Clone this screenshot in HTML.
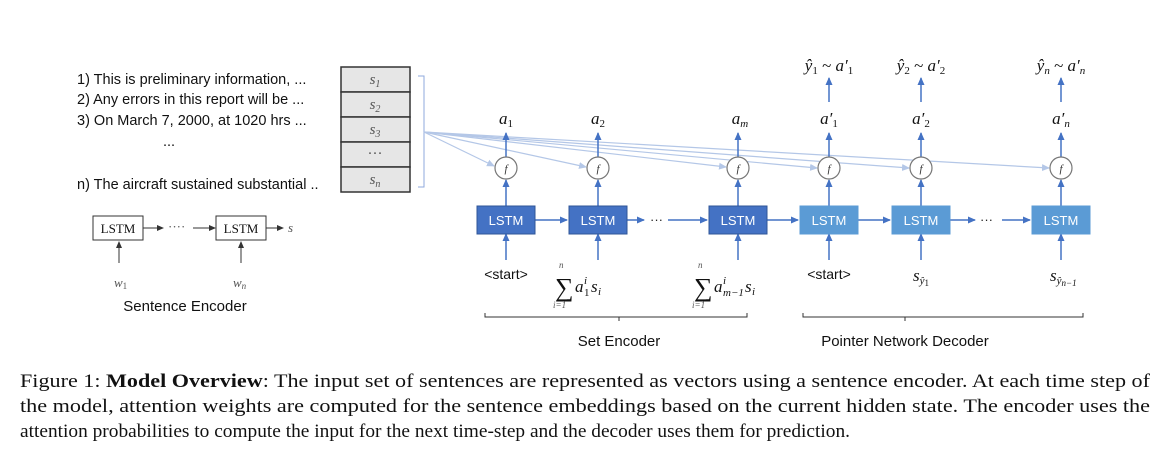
<!DOCTYPE html>
<html><head><meta charset="utf-8"><style>
html,body{margin:0;padding:0;background:#fff;}
svg{display:block;}
.sans{font-family:"Liberation Sans",sans-serif;}
.serif{font-family:"Liberation Serif",serif;}
</style></head><body>
<svg width="1169" height="452" viewBox="0 0 1169 452" xmlns="http://www.w3.org/2000/svg">
<defs>
<marker id="ab" markerWidth="8" markerHeight="8" refX="7" refY="4" orient="auto" markerUnits="userSpaceOnUse"><path d="M0,0.5 L8,4 L0,7.5 z" fill="#4472c4"/></marker>
<marker id="al" markerWidth="8" markerHeight="8" refX="7" refY="4" orient="auto" markerUnits="userSpaceOnUse"><path d="M0,0.5 L8,4 L0,7.5 z" fill="#b4c7e7"/></marker>
<marker id="ak" markerWidth="7" markerHeight="7" refX="6" refY="3.5" orient="auto" markerUnits="userSpaceOnUse"><path d="M0,0.5 L7,3.5 L0,6.5 z" fill="#333"/></marker>
</defs>
<g class="sans" font-size="14.5" fill="#111">
<text x="77" y="84">1) This is preliminary information, ...</text>
<text x="77" y="104">2) Any errors in this report will be ...</text>
<text x="77" y="125">3) On March 7, 2000, at 1020 hrs ...</text>
<text x="163" y="146">...</text>
<text x="77" y="189">n) The aircraft sustained substantial ..</text>
</g>
<g stroke="#333" stroke-width="1.5" fill="#e6e6e6">
<rect x="341" y="67" width="69" height="25"/>
<rect x="341" y="92" width="69" height="25"/>
<rect x="341" y="117" width="69" height="25"/>
<rect x="341" y="142" width="69" height="25"/>
<rect x="341" y="167" width="69" height="25"/>
</g>
<g class="serif" font-style="italic" font-size="15" fill="#555" text-anchor="middle">
<text x="375" y="84">s<tspan font-size="10" dy="3">1</tspan></text>
<text x="375" y="109">s<tspan font-size="10" dy="3">2</tspan></text>
<text x="375" y="134">s<tspan font-size="10" dy="3">3</tspan></text>
<text x="375" y="158" font-style="normal">···</text>
<text x="375" y="184">s<tspan font-size="10" dy="3">n</tspan></text>
</g>
<path d="M418,76 H424 V187 H418" fill="none" stroke="#8faadc" stroke-width="1"/>
<g stroke="#b4c7e7" stroke-width="1.2" marker-end="url(#al)" fill="none">
<line x1="424" y1="132" x2="494" y2="166"/>
<line x1="424" y1="132" x2="586" y2="167"/>
<line x1="424" y1="132" x2="726" y2="167"/>
<line x1="424" y1="132" x2="817" y2="168"/>
<line x1="424" y1="132" x2="909" y2="168"/>
<line x1="424" y1="132" x2="1049" y2="168"/>
</g>
<g stroke="#4472c4" stroke-width="1.5" fill="none">
<line x1="506" y1="260" x2="506" y2="234" marker-end="url(#ab)"/>
<line x1="598" y1="260" x2="598" y2="234" marker-end="url(#ab)"/>
<line x1="738" y1="260" x2="738" y2="234" marker-end="url(#ab)"/>
<line x1="829" y1="260" x2="829" y2="234" marker-end="url(#ab)"/>
<line x1="921" y1="260" x2="921" y2="234" marker-end="url(#ab)"/>
<line x1="1061" y1="260" x2="1061" y2="234" marker-end="url(#ab)"/>
<line x1="506" y1="206" x2="506" y2="180" marker-end="url(#ab)"/>
<line x1="598" y1="206" x2="598" y2="180" marker-end="url(#ab)"/>
<line x1="738" y1="206" x2="738" y2="180" marker-end="url(#ab)"/>
<line x1="829" y1="206" x2="829" y2="180" marker-end="url(#ab)"/>
<line x1="921" y1="206" x2="921" y2="180" marker-end="url(#ab)"/>
<line x1="1061" y1="206" x2="1061" y2="180" marker-end="url(#ab)"/>
<line x1="506" y1="157" x2="506" y2="133" marker-end="url(#ab)"/>
<line x1="598" y1="157" x2="598" y2="133" marker-end="url(#ab)"/>
<line x1="738" y1="157" x2="738" y2="133" marker-end="url(#ab)"/>
<line x1="829" y1="157" x2="829" y2="133" marker-end="url(#ab)"/>
<line x1="921" y1="157" x2="921" y2="133" marker-end="url(#ab)"/>
<line x1="1061" y1="157" x2="1061" y2="133" marker-end="url(#ab)"/>
<line x1="829" y1="102" x2="829" y2="78" marker-end="url(#ab)"/>
<line x1="921" y1="102" x2="921" y2="78" marker-end="url(#ab)"/>
<line x1="1061" y1="102" x2="1061" y2="78" marker-end="url(#ab)"/>
<line x1="535" y1="220" x2="567" y2="220" marker-end="url(#ab)"/>
<line x1="627" y1="220" x2="644" y2="220" marker-end="url(#ab)"/>
<line x1="668" y1="220" x2="707" y2="220" marker-end="url(#ab)"/>
<line x1="767" y1="220" x2="798" y2="220" marker-end="url(#ab)"/>
<line x1="858" y1="220" x2="890" y2="220" marker-end="url(#ab)"/>
<line x1="950" y1="220" x2="975" y2="220" marker-end="url(#ab)"/>
<line x1="1002" y1="220" x2="1030" y2="220" marker-end="url(#ab)"/>
</g>
<g class="sans" font-size="13" fill="#222"><text x="650" y="224">···</text><text x="980" y="224">···</text></g>
<g stroke="#2f5597" stroke-width="1">
<rect x="477" y="206" width="58" height="28" fill="#4472c4"/>
<rect x="569" y="206" width="58" height="28" fill="#4472c4"/>
<rect x="709" y="206" width="58" height="28" fill="#4472c4"/>
</g>
<g stroke="#5b9bd5" stroke-width="1">
<rect x="800" y="206" width="58" height="28" fill="#5b9bd5"/>
<rect x="892" y="206" width="58" height="28" fill="#5b9bd5"/>
<rect x="1032" y="206" width="58" height="28" fill="#5b9bd5"/>
</g>
<g class="sans" font-size="13" fill="#fff" text-anchor="middle">
<text x="506" y="225">LSTM</text><text x="598" y="225">LSTM</text><text x="738" y="225">LSTM</text>
<text x="829" y="225">LSTM</text><text x="921" y="225">LSTM</text><text x="1061" y="225">LSTM</text>
</g>
<g fill="#fff" stroke="#777" stroke-width="1.2">
<circle cx="506" cy="168" r="11"/><circle cx="598" cy="168" r="11"/><circle cx="738" cy="168" r="11"/>
<circle cx="829" cy="168" r="11"/><circle cx="921" cy="168" r="11"/><circle cx="1061" cy="168" r="11"/>
</g>
<g class="serif" font-style="italic" font-size="11" fill="#333" text-anchor="middle">
<text x="506" y="172">f</text><text x="598" y="172">f</text><text x="738" y="172">f</text>
<text x="829" y="172">f</text><text x="921" y="172">f</text><text x="1061" y="172">f</text>
</g>
<g class="serif" font-style="italic" font-size="17" fill="#111" text-anchor="middle">
<text x="506" y="124">a<tspan font-size="11" font-style="normal" dy="3">1</tspan></text>
<text x="598" y="124">a<tspan font-size="11" font-style="normal" dy="3">2</tspan></text>
<text x="740" y="124">a<tspan font-size="11" dy="3">m</tspan></text>
<text x="829" y="124">a′<tspan font-size="11" font-style="normal" dy="3">1</tspan></text>
<text x="921" y="124">a′<tspan font-size="11" font-style="normal" dy="3">2</tspan></text>
<text x="1061" y="124">a′<tspan font-size="11" dy="3">n</tspan></text>
<text x="829" y="71">ŷ<tspan font-size="11" font-style="normal" dy="3">1</tspan><tspan dy="-3" font-style="normal"> ~ </tspan>a′<tspan font-size="11" font-style="normal" dy="3">1</tspan></text>
<text x="921" y="71">ŷ<tspan font-size="11" font-style="normal" dy="3">2</tspan><tspan dy="-3" font-style="normal"> ~ </tspan>a′<tspan font-size="11" font-style="normal" dy="3">2</tspan></text>
<text x="1061" y="71">ŷ<tspan font-size="11" dy="3">n</tspan><tspan dy="-3" font-style="normal"> ~ </tspan>a′<tspan font-size="11" dy="3">n</tspan></text>
</g>
<g class="sans" font-size="14" fill="#111" text-anchor="middle">
<text x="506" y="279">&lt;start&gt;</text><text x="829" y="279">&lt;start&gt;</text>
</g>
<g class="serif" font-style="italic" fill="#111">
<text x="555" y="296" font-size="26" font-style="normal">∑</text>
<text x="559" y="268" font-size="9" fill="#555">n</text>
<text x="553" y="308" font-size="9" fill="#555">i=1</text>
<text x="575" y="292" font-size="17">a</text>
<text x="584" y="284" font-size="11">i</text>
<text x="584" y="296" font-size="11" font-style="normal">1</text>
<text x="591" y="292" font-size="17">s</text>
<text x="598" y="295" font-size="11">i</text>
<text x="694" y="296" font-size="26" font-style="normal">∑</text>
<text x="698" y="268" font-size="9" fill="#555">n</text>
<text x="692" y="308" font-size="9" fill="#555">i=1</text>
<text x="714" y="292" font-size="17">a</text>
<text x="723" y="284" font-size="11">i</text>
<text x="723" y="296" font-size="11">m−1</text>
<text x="745" y="292" font-size="17">s</text>
<text x="752" y="295" font-size="11">i</text>
<text x="913" y="281" font-size="17">s<tspan font-size="11" dy="3">ŷ</tspan><tspan font-size="9" font-style="normal" dy="2">1</tspan></text>
<text x="1050" y="281" font-size="17">s<tspan font-size="11" dy="3">ŷ</tspan><tspan font-size="9" dy="2">n−1</tspan></text>
</g>
<g stroke="#333" stroke-width="1" fill="none">
<path d="M485,313 V317 H747 V313 M619,317 V321"/>
<path d="M803,313 V317 H1083 V313 M905,317 V321"/>
</g>
<g class="sans" font-size="15" fill="#111" text-anchor="middle">
<text x="619" y="346">Set Encoder</text>
<text x="905" y="346">Pointer Network Decoder</text>
</g>
<g stroke="#333" stroke-width="1" fill="#fff">
<rect x="93" y="216" width="50" height="24"/>
<rect x="216" y="216" width="50" height="24"/>
</g>
<g class="serif" font-size="13" fill="#111" text-anchor="middle">
<text x="118" y="233">LSTM</text><text x="241" y="233">LSTM</text>
</g>
<g stroke="#333" stroke-width="1" marker-end="url(#ak)">
<line x1="143" y1="228" x2="163" y2="228"/>
<line x1="193" y1="228" x2="215" y2="228"/>
<line x1="266" y1="228" x2="283" y2="228"/>
<line x1="119" y1="263" x2="119" y2="242"/>
<line x1="241" y1="263" x2="241" y2="242"/>
</g>
<g class="serif" fill="#555" font-size="13">
<text x="168" y="231">····</text>
<text x="288" y="232" font-style="italic">s</text>
<text x="114" y="287" font-style="italic">w<tspan font-size="9" font-style="normal" dy="2">1</tspan></text>
<text x="233" y="287" font-style="italic">w<tspan font-size="9" dy="2">n</tspan></text>
</g>
<text x="185" y="311" class="sans" font-size="15" fill="#111" text-anchor="middle">Sentence Encoder</text>
<g class="serif" font-size="18.5" fill="#111">
<text x="20" y="387" textLength="1130" lengthAdjust="spacingAndGlyphs">Figure 1: <tspan font-weight="bold">Model Overview</tspan>: The input set of sentences are represented as vectors using a sentence encoder. At each time step of</text>
<text x="20" y="412" textLength="1130" lengthAdjust="spacingAndGlyphs">the model, attention weights are computed for the sentence embeddings based on the current hidden state. The encoder uses the</text>
<text x="20" y="437" textLength="830" lengthAdjust="spacingAndGlyphs">attention probabilities to compute the input for the next time-step and the decoder uses them for prediction.</text>
</g>
</svg>
</body></html>
